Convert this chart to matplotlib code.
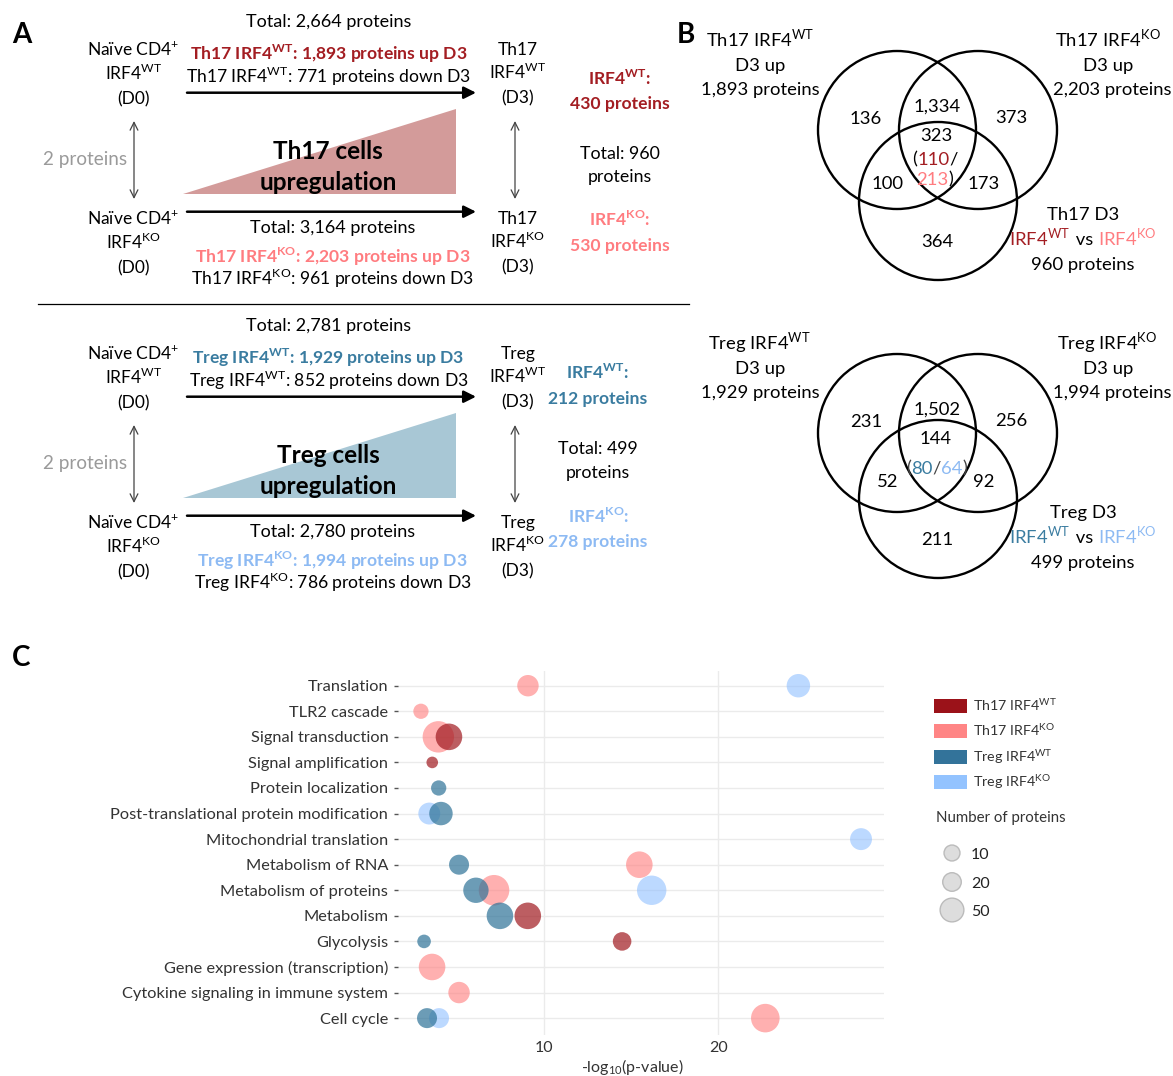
import matplotlib
matplotlib.use('Agg')
import matplotlib.pyplot as plt
from matplotlib.patches import Circle, Polygon, Rectangle
import numpy as np

FONT = ['Lato', 'DejaVu Sans']
plt.rcParams['font.family'] = FONT
plt.rcParams['mathtext.fontset'] = 'custom'
plt.rcParams['mathtext.rm'] = 'Lato'
plt.rcParams['mathtext.bf'] = 'Lato:bold'

# ---------------- data ----------------
WT = r'$^{\mathregular{WT}}$'
KO = r'$^{\mathregular{KO}}$'

# Panel A
th17_totals = [2664, 3164, 960]
th17_up = [1893, 2203]
th17_down = [771, 961]
th17_specific = [430, 530]
treg_totals = [2781, 2780, 499]
treg_up = [1929, 1994]
treg_down = [852, 786]
treg_specific = [212, 278]
naive_diff = [2, 2]

# Panel B (Venn region counts: A only, A&B, B only, A&B&C, A&C, B&C, C only)
th17_venn = [136, 1334, 373, 323, 100, 173, 364]
th17_core_split = [110, 213]
treg_venn = [231, 1502, 256, 144, 52, 92, 211]
treg_core_split = [80, 64]

# Panel C
terms = ["Translation", "TLR2 cascade", "Signal transduction", "Signal amplification",
         "Protein localization", "Post-translational protein modification",
         "Mitochondrial translation", "Metabolism of RNA", "Metabolism of proteins",
         "Metabolism", "Glycolysis", "Gene expression (transcription)",
         "Cytokine signaling in immune system", "Cell cycle"]

th17_wt_terms = ["Signal transduction", "Signal amplification", "Metabolism", "Glycolysis"]
th17_wt_logp = [4.52, 3.56, 9.05, 14.47]
th17_wt_n = [72, 1, 72, 20]

th17_ko_terms = ["Translation", "TLR2 cascade", "Signal transduction", "Metabolism of RNA",
                 "Metabolism of proteins", "Gene expression (transcription)",
                 "Cytokine signaling in immune system", "Cell cycle"]
th17_ko_logp = [9.06, 2.91, 3.91, 15.46, 7.11, 3.55, 5.10, 22.7]
th17_ko_n = [35, 8, 119, 72, 110, 72, 35, 90]

treg_wt_terms = ["Protein localization", "Post-translational protein modification",
                 "Metabolism of RNA", "Metabolism of proteins", "Metabolism",
                 "Glycolysis", "Cell cycle"]
treg_wt_logp = [3.93, 4.06, 5.10, 6.07, 7.45, 3.09, 3.26]
treg_wt_n = [8, 48, 27, 62, 72, 4, 27]

treg_ko_terms = ["Translation", "Post-translational protein modification",
                 "Mitochondrial translation", "Metabolism of proteins", "Cell cycle"]
treg_ko_logp = [24.6, 3.39, 28.2, 16.17, 3.95]
treg_ko_n = [48, 38, 38, 98, 27]

legend_sizes = [10, 20, 50]

# ---------------- colours ----------------
RED = '#A31D22'
PINK = '#FF7C80'
BLUE = '#3A7CA0'
LBLUE = '#8DBAF3'
GREY = '#9A9A9A'

W, H = 1173, 1076
fig = plt.figure(figsize=(W / 100, H / 100), dpi=100)
ov = fig.add_axes([0, 0, 1, 1])
ov.set_xlim(0, W)
ov.set_ylim(H, 0)
ov.axis('off')
renderer = fig.canvas.get_renderer()


def seg_width(s, size, weight):
    t1 = ov.text(0, 0, 'x' + s + 'x', fontsize=size, fontweight=weight)
    t2 = ov.text(0, 0, 'xx', fontsize=size, fontweight=weight)
    w = t1.get_window_extent(renderer).width - t2.get_window_extent(renderer).width
    t1.remove()
    t2.remove()
    return w


def rich(x, y, parts, size=12, weight='normal', ha='center'):
    """parts: list of (text, colour); y = visual middle of the line."""
    widths = [seg_width(s, size, weight) for s, c in parts]
    total = sum(widths)
    if ha == 'center':
        x0 = x - total / 2
    elif ha == 'right':
        x0 = x - total
    else:
        x0 = x
    yb = y + 0.36 * size * 100 / 72
    for (s, c), w in zip(parts, widths):
        ov.text(x0, yb, s, color=c, fontsize=size, fontweight=weight,
                ha='left', va='baseline')
        x0 += w


def T(x, y, s, size=12, color='black', weight='normal', ha='center'):
    rich(x, y, [(s, color)], size=size, weight=weight, ha=ha)


def fmt(v):
    return f"{v:,}"


SA = 12.6   # panel A regular text
SAB = 12.6  # panel A bold coloured text
SB = 13.3   # panel B text

# ---------------- Panel letters ----------------
T(22, 33, 'A', size=20, weight='bold')
T(686, 33, 'B', size=20, weight='bold')
T(21, 656, 'C', size=20, weight='bold')

# ---------------- Panel A ----------------
def panel_a(dy, cell, totals, up, down, diff, c_wt, c_ko, tri_col):
    for yy, g in [(50, WT), (219, KO)]:
        T(134, yy + dy, r'Naïve CD4$^{\mathregular{+}}$', 12.5)
        T(134, yy + 24 + dy, 'IRF4' + g, 12.5)
        T(134, yy + 48 + dy, '(D0)', 12.5)
    T(518, 49 + dy, cell, 12.5)
    T(518, 73 + dy, 'IRF4' + WT, 12.5)
    T(518, 97 + dy, '(D3)', 12.5)
    T(518, 218 + dy, cell, 12.5)
    T(518, 242 + dy, 'IRF4' + KO, 12.5)
    T(518, 266 + dy, '(D3)', 12.5)
    T(329, 21 + dy, f'Total: {fmt(totals[0])} proteins', 13)
    T(329, 54 + dy, f'{cell} IRF4{WT}: {fmt(up[0])} proteins up D3', SAB, c_wt, 'bold')
    T(329, 77 + dy, f'{cell} IRF4{WT}: {fmt(down[0])} proteins down D3', SA)
    T(333, 227 + dy, f'Total: {fmt(totals[1])} proteins', 13)
    T(333, 257 + dy, f'{cell} IRF4{KO}: {fmt(up[1])} proteins up D3', SAB, c_ko, 'bold')
    T(333, 279 + dy, f'{cell} IRF4{KO}: {fmt(down[1])} proteins down D3', SA)
    for yy in (92.7, 211.7):
        ov.annotate('', xy=(476, yy + dy), xytext=(187, yy + dy),
                    arrowprops=dict(arrowstyle='-|>', lw=1.8, color='black',
                                    mutation_scale=18, shrinkA=0, shrinkB=0))
    for xx in (134, 515):
        ov.annotate('', xy=(xx, 121 + dy), xytext=(xx, 199 + dy),
                    arrowprops=dict(arrowstyle='<->', lw=0.9, color='#444444',
                                    mutation_scale=14, shrinkA=0, shrinkB=0))
    T(85, 158 + dy, f'{diff} proteins', 13.6, GREY)
    ov.add_patch(Polygon([[183, 194 + dy], [455.5, 194 + dy], [455.5, 109 + dy]],
                         closed=True, facecolor=tri_col, edgecolor='none'))
    T(328, 150 + dy, f'{cell} cells', 17.5, weight='bold')
    T(328, 181 + dy, 'upregulation', 17.5, weight='bold')


panel_a(0, 'Th17', th17_totals, th17_up, th17_down, naive_diff[0], RED, PINK, '#D39B9A')
T(620, 79, 'IRF4' + WT + ':', SAB, RED, 'bold')
T(620, 103, f'{th17_specific[0]} proteins', SAB, RED, 'bold')
T(620, 153, f'Total: {th17_totals[2]}', 12.8)
T(620, 176, 'proteins', 12.8)
T(620, 220, 'IRF4' + KO + ':', SAB, PINK, 'bold')
T(620, 245, f'{th17_specific[1]} proteins', SAB, PINK, 'bold')

ov.plot([38, 689], [304, 304], color='black', lw=0.9)

panel_a(304, 'Treg', treg_totals, treg_up, treg_down, naive_diff[1], BLUE, LBLUE, '#A8C7D5')
T(598, 373, 'IRF4' + WT + ':', SAB, BLUE, 'bold')
T(598, 398, f'{treg_specific[0]} proteins', SAB, BLUE, 'bold')
T(598, 448, f'Total: {treg_totals[2]}', 12.8)
T(598, 472, 'proteins', 12.8)
T(599, 517, 'IRF4' + KO + ':', SAB, LBLUE, 'bold')
T(598, 541, f'{treg_specific[1]} proteins', SAB, LBLUE, 'bold')

# ---------------- Panel B ----------------
def venn(dy, dyb, cell, counts, up, total, c_wt, c_ko):
    centers = [(897, 130 + dy), (978, 130 + dy), (938, 201 + dyb)]
    for c in centers:
        ov.add_patch(Circle(c, 79, facecolor='none', edgecolor='black', lw=1.7))
    T(760, 39 + dy, f'{cell} IRF4{WT}', SB)
    T(760, 64 + dy, 'D3 up', SB)
    T(760, 88 + dy, f'{fmt(up[0])} proteins', SB)
    T(1108, 39 + dy, f'{cell} IRF4{KO}', SB)
    T(1108, 64 + dy, 'D3 up', SB)
    T(1112, 88 + dy, f'{fmt(up[1])} proteins', SB)
    T(1083, 213 + dyb, f'{cell} D3', SB)
    rich(1083, 238 + dyb, [('IRF4' + WT, c_wt), (' vs ', 'black'), ('IRF4' + KO, c_ko)], SB)
    T(1083, 263 + dyb, f'{total} proteins', SB)
    pos = [(866, 117 + dy), (937, 105 + dy), (1011, 116 + dy), (936, 134 + dy),
           (888, 182 + dyb), (984, 182 + dyb), (937, 240 + dyb)]
    for (x, y), v in zip(pos, counts):
        T(x, y, fmt(v), SB)


venn(0, 0, 'Th17', th17_venn, th17_up, th17_totals[2], RED, PINK)
rich(935, 158, [('(', 'black'), (str(th17_core_split[0]), RED), ('/', 'black')], SB)
rich(935, 178, [(str(th17_core_split[1]), PINK), (')', 'black')], SB)

venn(303, 298, 'Treg', treg_venn, treg_up, treg_totals[2], BLUE, LBLUE)
rich(937, 467, [('(', '#444444'), (str(treg_core_split[0]), BLUE), ('/', '#444444'),
                (str(treg_core_split[1]), LBLUE), (')', '#444444')], SB)

# ---------------- Panel C ----------------
def rad(n):
    return 4.8 + np.sqrt(np.asarray(n, dtype=float))


def msize(n):
    return (1.44 * rad(n)) ** 2


axc = fig.add_axes([398 / W, 1 - 1035 / H, (884 - 398) / W, (1035 - 671) / H])
axc.set_xlim(1.592, 29.52)
axc.set_ylim(13.66, -0.575)
axc.set_facecolor('white')
for sp in axc.spines.values():
    sp.set_visible(False)
axc.grid(True, color='#EBEBEB', lw=1.0)
axc.set_axisbelow(True)
axc.set_yticks(range(len(terms)))
axc.set_yticklabels(terms)
axc.set_xticks([10, 20])
axc.tick_params(axis='y', length=3, width=1, color='#555555', labelsize=11.8,
                labelcolor='#333333', pad=4)
axc.tick_params(axis='x', length=0, labelsize=11.5, labelcolor='#333333', pad=4)
axc.set_xlabel(r'-log$_{\mathregular{10}}$(p-value)', fontsize=11.5, color='#333333')
axc.xaxis.set_label_coords((632 - 398) / 486, -(1067 - 1035) / 364)
axc.xaxis.label.set_va('center')

idx = {t: i for i, t in enumerate(terms)}
groups = [
    (th17_ko_terms, th17_ko_logp, th17_ko_n, '#FF8080', 0.62),
    (th17_wt_terms, th17_wt_logp, th17_wt_n, '#A01A20', 0.70),
    (treg_ko_terms, treg_ko_logp, treg_ko_n, '#8DBEFF', 0.58),
    (treg_wt_terms, treg_wt_logp, treg_wt_n, '#2E7398', 0.70),
]
for tl, xv, nv, col, a in groups:
    axc.scatter(xv, [idx[t] for t in tl], s=msize(nv), color=col, alpha=a,
                linewidths=0, zorder=3)

# legend (colour)
leg_cols = ['#9B1219', '#FF8585', '#33739A', '#93C3FF']
leg_labels = ['Th17 IRF4' + WT, 'Th17 IRF4' + KO, 'Treg IRF4' + WT, 'Treg IRF4' + KO]
for i, (c, lab) in enumerate(zip(leg_cols, leg_labels)):
    yc = 706 + 25.3 * i
    ov.add_patch(Rectangle((934, yc - 7), 33, 14, facecolor=c, edgecolor='none'))
    T(973, yc, lab, 10.3, '#333333', ha='left')
T(936, 817, 'Number of proteins', 10.8, '#333333', ha='left')
ov.scatter([952] * 3, [853, 882, 910], s=msize(legend_sizes), color='#DDDDDD',
           edgecolors='#BBBBBB', linewidths=1)
for y, v in zip([853, 882, 910], legend_sizes):
    T(971, y, str(v), 11.5, '#222222', ha='left')

fig.savefig('out.png', dpi=100)
